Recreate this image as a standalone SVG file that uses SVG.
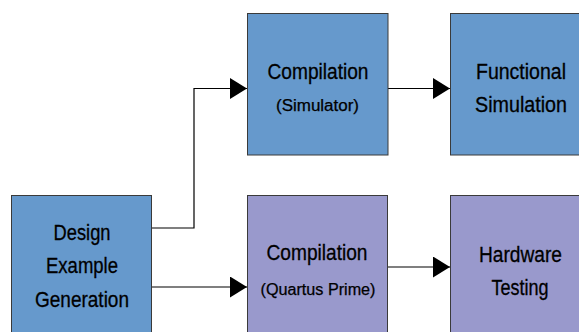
<svg xmlns="http://www.w3.org/2000/svg" width="579" height="332" viewBox="0 0 579 332">
<style>
.b{fill:#6699cc;stroke:#3a3a3a;stroke-width:1}
.p{fill:#9999cc;stroke:#3a3a3a;stroke-width:1}
.t{font-family:"Liberation Sans",Arial,sans-serif;font-size:22px;fill:#000;stroke:#000;stroke-width:0.3;text-anchor:middle}
.s{font-family:"Liberation Sans",Arial,sans-serif;font-size:16px;fill:#000;stroke:#000;stroke-width:0.25;text-anchor:middle}
.c{fill:none;stroke:#000;stroke-width:1.2;marker-end:url(#ah)}
</style>
<defs>
<marker id="ah" markerUnits="userSpaceOnUse" markerWidth="17" markerHeight="21" refX="17" refY="10.5" orient="auto">
<path d="M0,0 L17,10.5 L0,21 z" fill="#000"/>
</marker>
</defs>
<rect width="579" height="332" fill="#fff"/>
<g id="connectors">
<path class="c" d="M151,228 H194 V88.5 H247"/>
<path class="c" d="M151,287 H247"/>
<path class="c" d="M388,88.5 H450"/>
<path class="c" d="M387,267 H450"/>
</g>
<g id="design">
<rect class="b" x="11.5" y="195.5" width="140" height="142"/>
<text class="t" x="82" y="240" textLength="57" lengthAdjust="spacingAndGlyphs">Design</text>
<text class="t" x="82" y="273" textLength="72" lengthAdjust="spacingAndGlyphs">Example</text>
<text class="t" x="82" y="307" textLength="94" lengthAdjust="spacingAndGlyphs">Generation</text>
</g>
<g id="compSim">
<rect class="b" x="247.5" y="13.5" width="140.5" height="141.5"/>
<text class="t" x="318" y="78.7" textLength="101" lengthAdjust="spacingAndGlyphs">Compilation</text>
<text class="s" x="317.5" y="111" textLength="83" lengthAdjust="spacingAndGlyphs">(Simulator)</text>
</g>
<g id="funcSim">
<rect class="b" x="450.5" y="13.5" width="141" height="141.5"/>
<text class="t" x="521" y="78.7" textLength="90" lengthAdjust="spacingAndGlyphs">Functional</text>
<text class="t" x="521" y="111.7" textLength="92" lengthAdjust="spacingAndGlyphs">Simulation</text>
</g>
<g id="compQuartus">
<rect class="p" x="247.5" y="195.5" width="140" height="142"/>
<text class="t" x="317" y="260" textLength="101" lengthAdjust="spacingAndGlyphs">Compilation</text>
<text class="s" x="318" y="295" textLength="115" lengthAdjust="spacingAndGlyphs">(Quartus Prime)</text>
</g>
<g id="hwTest">
<rect class="p" x="450.5" y="195.5" width="141" height="142"/>
<text class="t" x="520.5" y="262" textLength="83" lengthAdjust="spacingAndGlyphs">Hardware</text>
<text class="t" x="520" y="295" textLength="57" lengthAdjust="spacingAndGlyphs">Testing</text>
</g>
</svg>
